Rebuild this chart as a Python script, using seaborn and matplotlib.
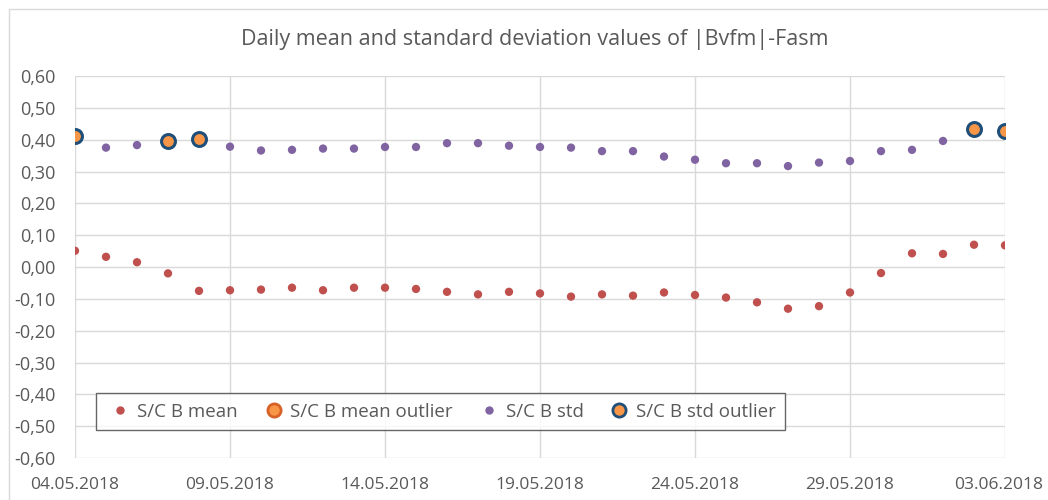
import numpy as np
import pandas as pd
import matplotlib
matplotlib.use("Agg")
import matplotlib.pyplot as plt
import matplotlib.dates as mdates
import matplotlib.transforms as mtransforms
from matplotlib.ticker import FuncFormatter, MultipleLocator
from matplotlib.lines import Line2D
import seaborn as sns

# Данные
days = pd.date_range("2018-05-04", "2018-06-03", freq="D")
mean_vals = [0.051, 0.032, 0.015, -0.020, -0.075, -0.073, -0.071, -0.065, -0.073, -0.065,
             -0.065, -0.069, -0.078, -0.086, -0.078, -0.083, -0.093, -0.086, -0.090, -0.080,
             -0.088, -0.096, -0.111, -0.131, -0.123, -0.080, -0.019, 0.043, 0.041, 0.070,
             0.068]
std_vals = [0.412, 0.375, 0.383, 0.397, 0.403, 0.378, 0.366, 0.368, 0.372, 0.372,
            0.377, 0.377, 0.389, 0.389, 0.381, 0.377, 0.375, 0.364, 0.364, 0.347,
            0.337, 0.326, 0.326, 0.317, 0.328, 0.333, 0.364, 0.368, 0.396, 0.433,
            0.427]
std_outlier_idx = [0, 3, 4, 29, 30]

df = pd.DataFrame({"date": days, "mean": mean_vals, "std": std_vals})
is_out = np.zeros(len(df), dtype=bool)
is_out[std_outlier_idx] = True

c_mean = "#C0504D"
c_std = "#8064A2"
c_out = "#F79646"
c_edge = "#1F4E79"
grey = "#595959"

sns.set_style("white")
plt.rcParams["font.family"] = ["Open Sans", "DejaVu Sans"]

fig = plt.figure(figsize=(10.48, 5.0), dpi=100)
ax = fig.add_axes([75 / 1048, 1 - 458 / 500, 930 / 1048, 382 / 500])

sns.scatterplot(data=df, x="date", y="mean", ax=ax, color=c_mean, s=36,
                edgecolor="none", zorder=3)
sns.scatterplot(data=df[~is_out], x="date", y="std", ax=ax, color=c_std, s=36,
                edgecolor="none", zorder=3)
sns.scatterplot(data=df[is_out], x="date", y="std", ax=ax, color=c_out, s=100,
                edgecolor=c_edge, linewidth=2.2, zorder=4)

# Оси
ax.set_xlim(days[0], days[-1])
ax.set_ylim(-0.6, 0.6)
ax.yaxis.set_major_locator(MultipleLocator(0.1))
ax.yaxis.set_major_formatter(FuncFormatter(lambda v, p: f"{v:.2f}".replace(".", ",").replace("-0,00", "0,00")))
ax.set_xticks(days[::5])
ax.xaxis.set_major_formatter(mdates.DateFormatter("%d.%m.%Y"))
ax.grid(True, color="#d9d9d9", linewidth=1)
for sp in ax.spines.values():
    sp.set_visible(False)
ax.tick_params(axis="y", length=0, labelsize=13, colors=grey, pad=14)
ax.tick_params(axis="x", length=0, labelsize=12.5, colors=grey, pad=14)
ax.set_xlabel("")
ax.set_ylabel("")

# последняя подпись у самого края — чуть сдвинуть влево
last = ax.get_xticklabels()[-1]
last.set_transform(last.get_transform() + mtransforms.ScaledTranslation(-6 / 100, 0, fig.dpi_scale_trans))

fig.text(535 / 1048, 1 - 40 / 500, "Daily mean and standard deviation values of |Bvfm|-Fasm",
         ha="center", va="center", fontsize=15.5, color=grey)

# Легенда
handles = [
    Line2D([], [], marker="o", ls="", color=c_mean, markersize=5),
    Line2D([], [], marker="o", ls="", markerfacecolor=c_out, markeredgecolor="#D8612A",
           markeredgewidth=2, markersize=9.5),
    Line2D([], [], marker="o", ls="", color=c_std, markersize=5),
    Line2D([], [], marker="o", ls="", markerfacecolor=c_out, markeredgecolor=c_edge,
           markeredgewidth=2, markersize=9.5),
]
labels = ["S/C B mean", "S/C B mean outlier", "S/C B std", "S/C B std outlier"]
leg = ax.legend(handles, labels, ncol=4, loc="lower left", bbox_to_anchor=(0.0226, 0.073),
                borderaxespad=0, frameon=True, fancybox=False, fontsize=13.5,
                handletextpad=0.1, columnspacing=1.1, handlelength=1.6, borderpad=0.5,
                labelcolor=grey)
leg.get_frame().set_edgecolor("#404040")
leg.get_frame().set_linewidth(1)

# Рамка области графика
fig.add_artist(Line2D([9 / 1048, 1], [1 - 9 / 500, 1 - 9 / 500], color="#d9d9d9", lw=1))
fig.add_artist(Line2D([9 / 1048, 9 / 1048], [0, 1 - 9 / 500], color="#d9d9d9", lw=1))

fig.savefig("out.png", dpi=100)
